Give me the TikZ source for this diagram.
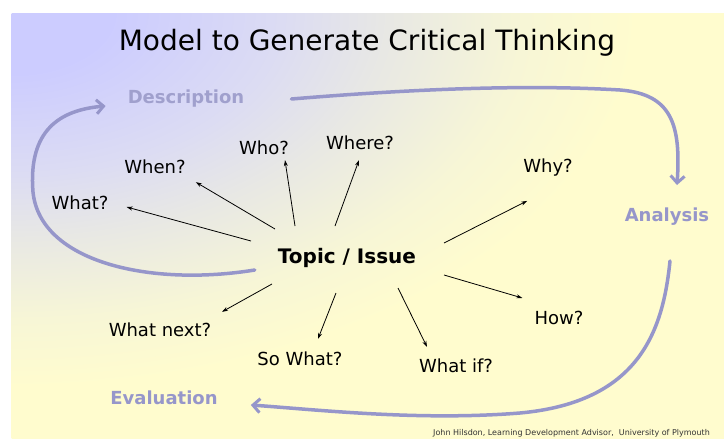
\documentclass[tikz,border=0pt]{standalone}
\usepackage{fontspec}
\setmainfont{DejaVu Sans}
\usetikzlibrary{arrows.meta,calc}
\definecolor{cyc}{RGB}{150,150,202}
\definecolor{cyctext}{RGB}{160,160,205}
\definecolor{bgblue}{RGB}{204,204,255}
\definecolor{bglav}{RGB}{220,220,243}
\definecolor{bgmid}{RGB}{232,232,228}
\definecolor{bgpale}{RGB}{247,246,214}
\definecolor{bgyel}{RGB}{255,252,206}
\pgfdeclareradialshading{bgrad}{\pgfpoint{0bp}{0bp}}{color(0bp)=(bgblue); color(3.5bp)=(bgblue); color(9.5bp)=(bglav); color(13.25bp)=(bgmid); color(18bp)=(bgpale); color(22bp)=(bgyel); color(50bp)=(bgyel)}
\tikzset{
  q/.style={font=\fontsize{18}{18}\selectfont, inner sep=0pt, text=black},
  stage/.style={font=\bfseries\fontsize{18}{18}\selectfont, inner sep=0pt, text=cyctext},
  spoke/.style={-{Stealth[length=6pt,width=4pt]}, line width=0.8pt, black},
  cycle/.style={-{Straight Barb[length=7pt,width=14pt,line width=3pt]}, line width=3.5pt, cyc, line cap=round},
}
\begin{document}
\begin{tikzpicture}[x=1pt,y=-1pt]
\useasboundingbox (0,0) rectangle (724,439);
\fill[white] (0,0) rectangle (724,439);
\fill[bgyel] (11.5,13) rectangle (724,439);
\begin{scope}
\clip (11.5,13) rectangle (724,439);
\shade[shading=bgrad] (-702,-413) rectangle (724,439);
\end{scope}
% title
\node[font=\fontsize{28}{28}\selectfont, inner sep=0pt] (title) at (367,43) {Model to Generate Critical Thinking};
% stages
\node[stage] (desc) at (186,99) {Description};
\node[stage, text=cyc] (ana) at (667,217) {Analysis};
\node[stage, text=cyc] (eva) at (164,398) {Evaluation};
% centre
\node[font=\bfseries\fontsize{20}{20}\selectfont, inner sep=0pt] (topic) at (347,258) {Topic / Issue};
% questions
\node[q] (what) at (80,203) {What?};
\node[q] (when) at (155,167) {When?};
\node[q] (who) at (264,148) {Who?};
\node[q] (where) at (360,143) {Where?};
\node[q] (why) at (548,168) {Why?};
\node[q] (how) at (559,318) {How?};
\node[q] (next) at (160,330) {What next?};
\node[q] (sowhat) at (300,359) {So What?};
\node[q] (whatif) at (456,366) {What if?};
% spokes
\draw[spoke] ($(topic)+(-96,-17)$) -- ($(what.east)+(18,4)$);
\draw[spoke] ($(topic)+(-72,-29)$) -- ($(when.south east)+(10,8)$);
\draw[spoke] ($(topic)+(-52,-32)$) -- ($(who.south)+(21,5)$);
\draw[spoke] ($(topic)+(-12,-32)$) -- ($(where.south)+(-1,10)$);
\draw[spoke] ($(topic)+(97,-15)$) -- ($(why.south west)+(4,24)$);
\draw[spoke] ($(topic)+(97,17)$) -- ($(how.north west)+(-12,-13)$);
\draw[spoke] ($(topic)+(-75,26)$) -- ($(next.north)+(62,-11)$);
\draw[spoke] ($(topic)+(-11,35)$) -- ($(sowhat.north)+(18,-13)$);
\draw[spoke] ($(topic)+(51,30)$) -- ($(whatif.north)+(-29,-12)$);
% cycle
\draw[cycle] ($(desc.east)+(47,0)$) .. controls (400,90) and (520,84) .. (620,90) .. controls (672,94) and (681,125) .. ($(ana.north)+(10,-23)$);
\draw[cycle] ($(ana.south)+(3,35)$) .. controls (663,330) and (640,402) .. (520,413) .. controls (420,421) and (320,410) .. ($(eva.east)+(33,7)$);
\draw[cycle] ($(topic.west)+(-23,12)$) .. controls (150,287) and (40,262) .. (33,192) .. controls (28,130) and (60,110) .. ($(desc.west)+(-22,7)$);
% footer
\node[font=\fontsize{8}{8}\selectfont, anchor=west, inner sep=0pt, text=black!80] (foot) at (433,433) {John Hilsdon, Learning Development Advisor, \ University of Plymouth};
\end{tikzpicture}
\end{document}
